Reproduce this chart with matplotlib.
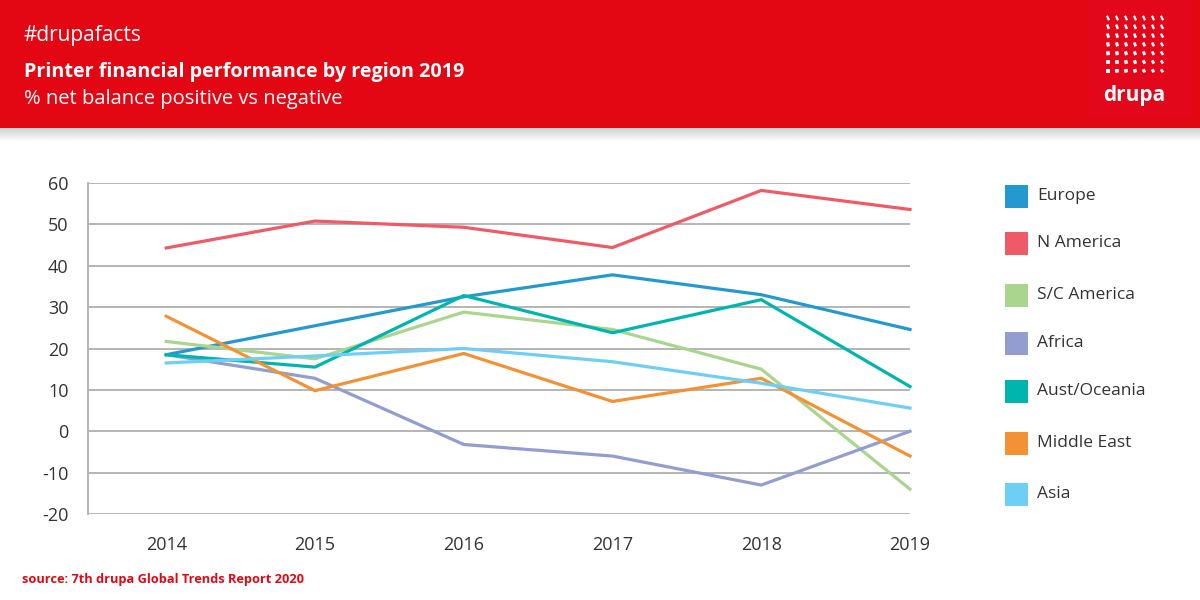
import matplotlib
matplotlib.use("Agg")
import matplotlib.pyplot as plt
import numpy as np
from matplotlib.patches import Rectangle

plt.rcParams["axes.unicode_minus"] = False

years = [2014, 2015, 2016, 2017, 2018, 2019]
series_names = ["Europe", "N America", "S/C America", "Africa", "Aust/Oceania", "Middle East", "Asia"]
europe = [18.5, 25.5, 32.5, 37.8, 33.0, 24.6]
n_america = [44.3, 50.8, 49.3, 44.4, 58.2, 53.6]
sc_america = [21.7, 17.5, 28.8, 24.6, 15.0, -14.0]
africa = [18.5, 12.8, -3.2, -6.0, -13.0, 0.0]
aust_oceania = [18.5, 15.5, 32.8, 23.8, 31.8, 10.8]
middle_east = [27.8, 9.8, 18.8, 7.2, 12.8, -6.0]
asia = [16.5, 18.2, 20.0, 16.8, 11.6, 5.6]
yticks = [-20, -10, 0, 10, 20, 30, 40, 50, 60]

values = [europe, n_america, sc_america, africa, aust_oceania, middle_east, asia]
colors = ["#2399D0", "#F05A66", "#A9D58F", "#939DD0", "#00B5AE", "#F39235", "#6DCFF6"]

RED = "#E30613"
FONT = "Open Sans"

fig = plt.figure(figsize=(12, 6), dpi=100)
fig.patch.set_facecolor("white")

# Header banner
bg = fig.add_axes([0, 0, 1, 1], zorder=-5)
bg.axis("off")
bg.add_patch(Rectangle((0, 0), 1200, 128, color=RED, lw=0))
grad = np.linspace(0.82, 1.0, 50).reshape(-1, 1)
bg.imshow(grad, extent=(0, 1200, 142, 128), cmap="gray", vmin=0, vmax=1, aspect="auto", zorder=1)
bg.set_xlim(0, 1200); bg.set_ylim(600, 0)

# logo
bg.add_patch(Rectangle((1088, 0), 104, 118, color="#E2071A", lw=0, zorder=2))
for i in range(7):
    for j in range(7):
        cx = 1108 + i * 9.0
        cy = 18 + j * 8.8
        frac = (j / 6.0)
        w = 2.2 + 2.0 * frac * (1 - i / 8.0)
        h = 5.0 - 1.5 * frac
        ang = 25 * (1 - frac) + 35 * frac * (i / 6.0)
        r = Rectangle((cx - w / 2, cy - h / 2), w, h, angle=-ang, rotation_point="center",
                      color="white", lw=0, zorder=3)
        bg.add_patch(r)
fig.text(1134 / 1200, 1 - 95 / 600, "drupa", color="white", fontsize=15, fontweight="bold",
         family=FONT, ha="center", va="center")

fig.text(24 / 1200, 1 - 35 / 600, "#drupafacts", color="white", fontsize=15, family=FONT,
         ha="left", va="center")
fig.text(24 / 1200, 1 - 72 / 600, "Printer financial performance by region 2019", color="white",
         fontsize=14.2, fontweight="bold", family=FONT, ha="left", va="center")
fig.text(24 / 1200, 1 - 99 / 600, "% net balance positive vs negative", color="white",
         fontsize=14.5, family=FONT, ha="left", va="center")

# Main chart
ax = fig.add_axes([88 / 1200, 86 / 600, 822 / 1200, 331 / 600])
ax.set_facecolor("none")
for name, vals, c in zip(series_names, values, colors):
    ax.plot(years, vals, color=c, lw=2.3, clip_on=False, zorder=3, solid_joinstyle="miter")
ax.set_ylim(-20, 60)
ax.set_xlim(2013.474, 2018.947)
ax.set_yticks(yticks)
ax.set_xticks(years)
ax.set_xticklabels([str(y) for y in years])
ax.yaxis.grid(True, color="#AFAFAF", lw=1.3)
ax.set_axisbelow(True)
for s in ["top", "right", "bottom"]:
    ax.spines[s].set_visible(False)
ax.spines["left"].set_color("#AFAFAF")
ax.spines["left"].set_linewidth(1.3)
ax.tick_params(axis="both", length=0, labelsize=13, colors="#333333")
ax.tick_params(axis="y", pad=14)
ax.tick_params(axis="x", pad=16)
for lab in ax.get_xticklabels() + ax.get_yticklabels():
    lab.set_family(FONT)

# Legend (manual)
leg_y = [196, 243, 295, 343, 391, 443, 494]
for name, c, yy in zip(series_names, colors, leg_y):
    bg.add_patch(Rectangle((1005, yy - 11.5), 23, 23, color=c, lw=0))
    fig.text(1037 / 1200, 1 - yy / 600, name, color="#333333", fontsize=12.5, family=FONT,
             ha="left", va="center")

fig.text(22 / 1200, 1 - 580 / 600, "source: 7th drupa Global Trends Report 2020", color=RED,
         fontsize=9.2, fontweight="bold", family=FONT, ha="left", va="center")

fig.savefig("out.png", dpi=100)
